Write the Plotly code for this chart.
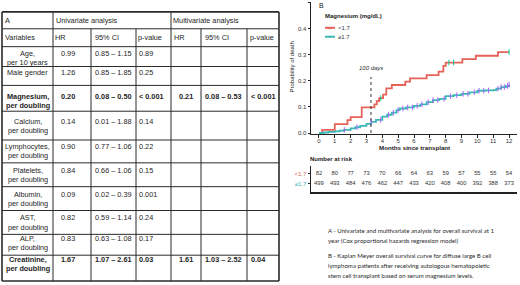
import plotly.graph_objects as go

W, H = 520, 285

# ---------------- Table data (panel A) ----------------
variables = ["Age,|per 10 years", "Male gender", "Magnesium,|per doubling", "Calcium,|per doubling",
             "Lymphocytes,|per doubling", "Platelets,|per doubling", "Albumin,|per doubling",
             "AST,|per doubling", "ALP,|per doubling", "Creatinine,|per doubling"]
bold_rows = [False, False, True, False, False, False, False, False, False, True]
uni_hr = ["0.99", "1.26", "0.20", "0.14", "0.90", "0.84", "0.09", "0.82", "0.83", "1.67"]
uni_ci = ["0.85 – 1.15", "0.85 – 1.85", "0.08 – 0.50", "0.01 – 1.88", "0.77 – 1.06",
          "0.66 – 1.06", "0.02 – 0.39", "0.59 – 1.14", "0.63 – 1.08", "1.07 – 2.61"]
uni_p = ["0.89", "0.25", "< 0.001", "0.14", "0.22", "0.15", "0.001", "0.24", "0.17", "0.03"]
multi_hr = ["", "", "0.21", "", "", "", "", "", "", "1.61"]
multi_ci = ["", "", "0.08 – 0.53", "", "", "", "", "", "", "1.03 – 2.52"]
multi_p = ["", "", "< 0.001", "", "", "", "", "", "", "0.04"]
group_headers = ["A", "Univariate analysis", "Multivariate analysis"]
col_headers = ["Variables", "HR", "95% CI", "p-value", "HR", "95% CI", "p-value"]

# ---------------- Kaplan-Meier data (panel B) ----------------
low_t = [0, 0.2, 1.0, 1.8, 2.0, 2.7, 3.5, 3.65, 3.8, 4.05, 4.25, 4.6, 5.45, 5.75, 6.8, 7.55, 7.85, 8.0, 9.05, 9.9, 11.3, 12.0]
low_p = [0, 0.012, 0.034, 0.049, 0.061, 0.098, 0.110, 0.122, 0.134, 0.147, 0.171, 0.184, 0.197, 0.209, 0.222, 0.235, 0.257, 0.270, 0.283, 0.296, 0.310, 0.310]
high_t = [0, 0.3, 0.6, 1.0, 1.3, 1.6, 2.0, 2.3, 2.6, 3.0, 3.3, 3.6, 4.0, 4.3, 4.6, 4.9, 5.1, 5.5, 6.0, 6.4, 6.8, 7.2,
          7.6, 8.0, 8.5, 9.0, 9.5, 10.0, 10.5, 11.0, 11.2, 11.5, 11.8, 12.0]
high_p = [0, 0.002, 0.004, 0.006, 0.009, 0.012, 0.018, 0.022, 0.027, 0.035, 0.043, 0.050, 0.063, 0.070, 0.078, 0.088,
          0.094, 0.098, 0.104, 0.110, 0.118, 0.126, 0.131, 0.141, 0.145, 0.150, 0.156, 0.162, 0.163, 0.164, 0.170,
          0.176, 0.180, 0.185]
low_censor = [3.9, 8.2, 8.5, 12.0]
high_censor = [1.6, 2.4, 3.3, 3.9, 4.4, 4.7, 5.0, 5.3, 5.6, 5.9, 6.2, 6.5, 6.9, 7.2, 7.5, 7.9, 8.3, 8.7, 9.1,
               9.4, 9.8, 10.1, 10.4, 10.7, 11.3, 11.5, 11.7, 11.9, 12.0]
group_names = ["<1.7", "≥1.7"]
landmark_days = 100

risk_times = list(range(13))
risk_low = [82, 80, 77, 73, 70, 66, 64, 63, 59, 57, 55, 55, 54]
risk_high = [499, 493, 484, 476, 462, 447, 433, 420, 408, 400, 392, 388, 373]

caption_a = ["A - Univariate and multivariate analysis for overall survival at 1",
             "year (Cox proportional hazards regression model)"]
caption_b = ["B - Kaplan Meyer overall survival curve for diffuse large B cell",
             "lymphoma patients after receiving autologous hematopoietic",
             "stem cell transplant based on serum magnesium levels."]

# ---------------- styles / layout ----------------
RED = "#E6625A"
TEAL = "#3DB6B6"
TXT = "#1e1e1e"
TFONT = "Liberation Sans"
LINE = "#2a2a2a"


def px(x):
    return x / W


def py(y):
    return 1 - y / H


def step_at(t, ts, ps):
    v = ps[0]
    for a, b in zip(ts, ps):
        if a <= t:
            v = b
    return v


fig = go.Figure()

# KM curves
fig.add_trace(go.Scatter(x=low_t, y=low_p, mode="lines", line=dict(color=RED, width=1.8, shape="hv"),
                         showlegend=False, xaxis="x", yaxis="y"))
fig.add_trace(go.Scatter(x=high_t, y=high_p, mode="lines", line=dict(color=TEAL, width=1.8, shape="hv"),
                         showlegend=False, xaxis="x", yaxis="y"))
fig.add_trace(go.Scatter(x=low_censor, y=[step_at(t, low_t, low_p) for t in low_censor], mode="markers",
                         marker=dict(symbol="line-ns-open", size=4, line=dict(color=RED, width=1)),
                         showlegend=False, xaxis="x", yaxis="y"))
fig.add_trace(go.Scatter(x=high_censor, y=[step_at(t, high_t, high_p) for t in high_censor], mode="markers",
                         marker=dict(symbol="line-ns-open", size=4, line=dict(color=TEAL, width=1)),
                         showlegend=False, xaxis="x", yaxis="y"))

# number at risk
fig.add_trace(go.Scatter(x=risk_times, y=[1] * len(risk_times), mode="text", text=[str(v) for v in risk_low],
                         textfont=dict(size=5.8, color="#333", family=TFONT), showlegend=False,
                         xaxis="x2", yaxis="y2"))
fig.add_trace(go.Scatter(x=risk_times, y=[0] * len(risk_times), mode="text", text=[str(v) for v in risk_high],
                         textfont=dict(size=5.8, color="#333", family=TFONT), showlegend=False,
                         xaxis="x2", yaxis="y2"))

shapes = []
annotations = []


def ann(x, y, text, size=7.3, anchor="left", color=TXT, family=TFONT, **kw):
    annotations.append(dict(x=px(x), y=py(y), xref="paper", yref="paper", text=text, showarrow=False,
                            xanchor=anchor, yanchor="middle", borderpad=0, borderwidth=0,
                            font=dict(size=size, color=color, family=family), **kw))


def hline(x0, x1, y, w=1, color=LINE):
    shapes.append(dict(type="line", xref="paper", yref="paper", x0=px(x0), x1=px(x1), y0=py(y), y1=py(y),
                       line=dict(color=color, width=w)))


def vline(x, y0, y1, w=1, color=LINE):
    shapes.append(dict(type="line", xref="paper", yref="paper", x0=px(x), x1=px(x), y0=py(y0), y1=py(y1),
                       line=dict(color=color, width=w)))


# ---------------- table drawing ----------------
col_edges = [2, 53, 91, 136, 171, 201, 247, 279]
row_edges = [12, 29, 47, 67, 86, 112, 141, 164, 188, 212, 236, 257, 283]
first_line_y = [53.8, 73.5, 97.5, 122.5, 147.2, 171.6, 196.0, 219.5, 240.0, 261.5]
line_gap = 9.2
val_x = [61, 95, 138.5, 179, 205, 250.5]

for i, y in enumerate(row_edges):
    hline(col_edges[0], col_edges[-1], y, w=1.6 if i in (0, len(row_edges) - 1) else 1)
for x in (col_edges[0], col_edges[1], col_edges[4], col_edges[-1]):
    vline(x, row_edges[0], row_edges[1], w=1.6 if x in (col_edges[0], col_edges[-1]) else 1)
for j, x in enumerate(col_edges):
    vline(x, row_edges[1], row_edges[-1], w=1.6 if j in (0, len(col_edges) - 1) else 1)

hy0 = (row_edges[0] + row_edges[1]) / 2 + 0.5
ann(5, hy0, group_headers[0])
ann(56, hy0, group_headers[1])
ann(173, hy0, group_headers[2])
hy1 = (row_edges[1] + row_edges[2]) / 2
head_x = [5, 55, 95, 137.5, 174, 205, 250]
for x, t in zip(head_x, col_headers):
    ann(x, hy1, t)

for r in range(len(variables)):
    b = bold_rows[r]
    fmt = (lambda s: "<b>" + s + "</b>") if b else (lambda s: s)
    parts = variables[r].split("|")
    for k, p in enumerate(parts):
        ann((col_edges[0] + col_edges[1]) / 2, first_line_y[r] + k * line_gap, fmt(p), anchor="center")
    vals = [uni_hr[r], uni_ci[r], uni_p[r].replace("<", "&lt;"), multi_hr[r], multi_ci[r],
            multi_p[r].replace("<", "&lt;")]
    for x, v in zip(val_x, vals):
        if v:
            ann(x, first_line_y[r], fmt(v))

# ---------------- KM annotations ----------------
ann(319, 6, "B", size=7, color="#222")
ann(325, 16, "<b>Magnesium (mg/dL)</b>", size=6, color="#222")
for yy, col, name in [(28, RED, group_names[0]), (37, TEAL, group_names[1])]:
    hline(325, 335, yy, w=2, color=col)
    ann(330, yy - 0.3, "+", size=6, anchor="center", color=col)
    ann(338, yy, name.replace("<", "&lt;"), size=6, color="#333")

land_m = landmark_days / 30.44
shapes.append(dict(type="line", xref="x", yref="y", x0=land_m, x1=land_m, y0=0, y1=0.215,
                   line=dict(color="#333", width=1, dash="dot")))
annotations.append(dict(x=land_m, y=0.25, xref="x", yref="y", text="<i>100 days</i>", showarrow=False,
                        font=dict(size=6, color="#333", family=TFONT)))
ann(292, 68, "Probability of death", size=6, anchor="center", color="#222", textangle=-90)
ann(414, 148.5, "<b>Months since transplant</b>", size=6.2, anchor="center", color="#222")
ann(310, 160, "<b>Number at risk</b>", size=6, color="#222")

# captions
cap_y = [232, 242.5, 257.5, 267.5, 277]
for yy, t in zip(cap_y, caption_a + caption_b):
    ann(328, yy, t, size=6.1, family="Lato", color="#2a2a2a")

tickfont = dict(size=6, color="#333", family=TFONT)
fig.update_layout(
    width=W, height=H, autosize=False,
    margin=dict(l=0, r=0, t=0, b=0),
    paper_bgcolor="white", plot_bgcolor="white",
    xaxis=dict(domain=[px(311), px(517)], range=[-0.5, 12.5], tickvals=list(range(13)), showline=True,
               linecolor="#222", linewidth=1, ticks="outside", ticklen=2.5, tickcolor="#222",
               tickfont=tickfont, showgrid=False, zeroline=False, anchor="y", ticklabelstandoff=-2),
    yaxis=dict(domain=[py(135), py(2)], range=[-0.004, 0.502], tickvals=[0, 0.1, 0.2, 0.3, 0.4, 0.5],
               ticktext=["0.0", "0.1", "0.2", "0.3", "0.4", "0.5"], showline=True, linecolor="#222",
               linewidth=1, ticks="outside", ticklen=2.5, tickcolor="#222", tickfont=tickfont,
               showgrid=False, zeroline=False, anchor="x"),
    xaxis2=dict(domain=[px(311), px(517)], range=[-0.5, 12.5], matches="x", showline=True, linecolor="#222",
                linewidth=1.5, showticklabels=False, ticks="", showgrid=False, zeroline=False, anchor="y2"),
    yaxis2=dict(domain=[py(193), py(167)], range=[-0.727, 1.727], tickvals=[1, 0],
                ticktext=["<span style='color:%s'>&lt;1.7</span>" % RED,
                          "<span style='color:%s'>≥1.7</span>" % TEAL],
                showline=True, linecolor="#222", linewidth=1, ticks="outside", ticklen=2.5, tickcolor="#222",
                tickfont=dict(size=6, family=TFONT), showgrid=False, zeroline=False, anchor="x2"),
    shapes=shapes,
    annotations=annotations,
)

fig.write_html("out.html", config={"displayModeBar": False},
               post_script="document.body.style.margin='0';document.body.style.overflow='hidden';")
